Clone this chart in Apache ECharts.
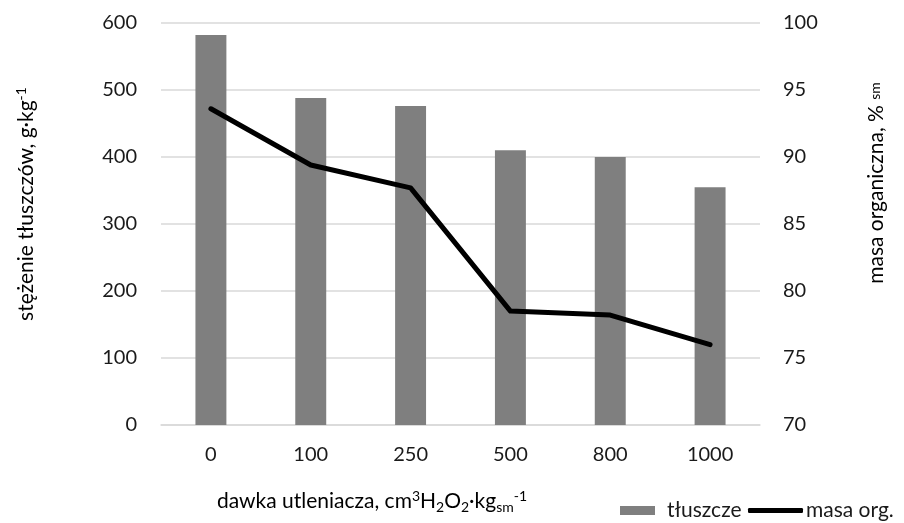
<!DOCTYPE html>
<html>
<head>
<meta charset="utf-8">
<script src="https://cdn.jsdelivr.net/npm/echarts@6/dist/echarts.min.js"></script>
<style>
  html, body { margin: 0; padding: 0; background: #ffffff; }
  #chart { width: 904px; height: 523px; }
</style>
</head>
<body>
<div id="chart"></div>
<script>
// Oxidant dose categories (cm3 H2O2 per kg dry matter)
const doses = ['0', '100', '250', '500', '800', '1000'];
// Fat concentration, g/kg (bars, left axis)
const fatConcentration = [582, 488, 476, 410, 400, 355];
// Organic matter, % of dry matter (line, right axis)
const organicMatter = [93.6, 89.4, 87.7, 78.5, 78.2, 76.0];
// Legend names
const seriesNames = ['tłuszcze', 'masa org.'];

const FONT = 'Lato, "Open Sans", sans-serif';
const TEXT = '#1a1a1a';
const GRID = '#d9d9d9';

const chart = echarts.init(document.getElementById('chart'), null, { renderer: 'canvas' });

const titleRich = {
  m: { fontSize: 21, fontFamily: FONT, color: TEXT, lineHeight: 30, verticalAlign: 'middle' },
  sup: { fontSize: 14, fontFamily: FONT, color: TEXT, lineHeight: 14, verticalAlign: 'top', padding: [3, 0, 0, 0] },
  sub: { fontSize: 14, fontFamily: FONT, color: TEXT, lineHeight: 14, verticalAlign: 'bottom', padding: [0, 0, 2, 0] },
  low: { fontSize: 14, fontFamily: FONT, color: TEXT, lineHeight: 14, verticalAlign: 'middle', padding: [0, 0, 2, 0] }
};

chart.setOption({
  backgroundColor: '#ffffff',
  animation: false,
  grid: { left: 161, right: 144, top: 23, bottom: 98 },
  xAxis: {
    type: 'category',
    data: doses,
    axisLine: { show: true, lineStyle: { color: GRID, width: 1.5 } },
    axisTick: { show: false },
    axisLabel: { color: TEXT, fontSize: 20, fontFamily: FONT, margin: 20 }
  },
  yAxis: [
    {
      type: 'value', min: 0, max: 600, interval: 100,
      axisLine: { show: false }, axisTick: { show: false },
      axisLabel: { color: TEXT, fontSize: 20, fontFamily: FONT, margin: 24 },
      splitLine: { show: true, lineStyle: { color: GRID, width: 1.5 } }
    },
    {
      type: 'value', min: 70, max: 100, interval: 5, position: 'right',
      axisLine: { show: false }, axisTick: { show: false },
      axisLabel: { color: TEXT, fontSize: 20, fontFamily: FONT, margin: 23 },
      splitLine: { show: false }
    }
  ],
  legend: [
    {
      data: [seriesNames[0]], left: 620, top: 500, itemWidth: 35, itemHeight: 9,
      icon: 'rect', itemGap: 0, padding: 0,
      textStyle: { color: TEXT, fontSize: 21, fontFamily: FONT, padding: [0, 0, 0, 7] }
    },
    {
      data: [seriesNames[1]], left: 748, top: 500, itemWidth: 55, itemHeight: 5,
      icon: 'roundRect', itemGap: 0, padding: 0,
      textStyle: { color: TEXT, fontSize: 21, fontFamily: FONT, padding: [0, 0, 0, -2] }
    }
  ],
  series: [
    {
      name: seriesNames[0],
      type: 'bar',
      data: fatConcentration,
      yAxisIndex: 0,
      barWidth: '31%',
      itemStyle: { color: '#7f7f7f' }
    },
    {
      name: seriesNames[1],
      type: 'line',
      data: organicMatter,
      yAxisIndex: 1,
      symbol: 'none',
      showSymbol: false,
      lineStyle: { color: '#000000', width: 5, cap: 'round', join: 'round' },
      itemStyle: { color: '#000000' }
    }
  ],
  graphic: [
    {
      type: 'text', x: 372, y: 501,
      style: {
        text: '{m|dawka utleniacza, cm}{sup|3}{m|H}{sub|2}{m|O}{sub|2}{m|·kg}{sub|sm}{sup|-1}',
        align: 'center', verticalAlign: 'middle', rich: titleRich
      }
    },
    {
      type: 'text', x: 26, y: 204, rotation: Math.PI / 2,
      style: {
        text: '{m|stężenie tłuszczów, g·kg}{sup|-1}',
        align: 'center', verticalAlign: 'middle', rich: titleRich
      }
    },
    {
      type: 'text', x: 876, y: 183, rotation: Math.PI / 2,
      style: {
        text: '{m|masa organiczna, % }{low|sm}',
        align: 'center', verticalAlign: 'middle', rich: titleRich
      }
    }
  ]
});
</script>
</body>
</html>
